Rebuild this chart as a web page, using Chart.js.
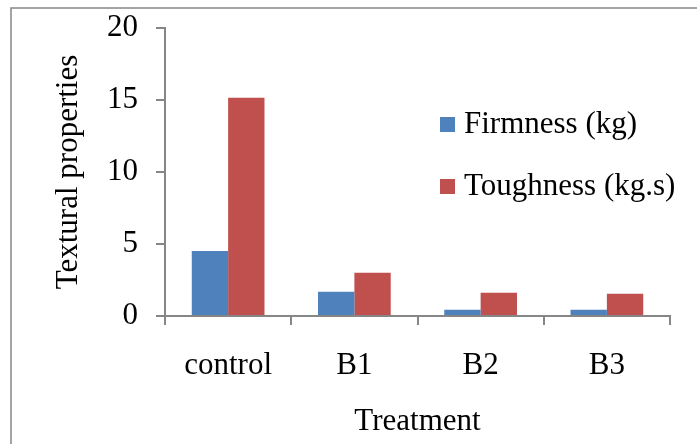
<!DOCTYPE html>
<html>
<head>
<meta charset="utf-8">
<script src="https://cdn.jsdelivr.net/npm/chart.js@4"></script>
<style>
  html, body { margin: 0; padding: 0; background: #fff; }
  #wrap { width: 697px; height: 444px; }
</style>
</head>
<body>
<div id="wrap"><canvas id="chart" width="697" height="444"></canvas></div>
<script>
const categories = ['control', 'B1', 'B2', 'B3'];
const firmness = [4.52, 1.68, 0.44, 0.44];
const toughness = [15.15, 3.0, 1.61, 1.55];
const seriesLabels = ['Firmness (kg)', 'Toughness (kg.s)'];
const yTicks = [0, 5, 10, 15, 20];

const axisGrey = '#868686';
const font = { family: "'Liberation Serif', 'Times New Roman', serif", size: 31 };

// outer frame of the chart box (cropped at right and bottom)
const framePlugin = {
    id: 'frame',
    beforeDraw(chart) {
        const ctx = chart.ctx;
        ctx.save();
        ctx.strokeStyle = axisGrey;
        ctx.lineWidth = 1.5;
        ctx.strokeRect(11, 8, 720, 460);
        ctx.restore();
    }
};

// legend sits inside the plot area
const legendPlugin = {
    id: 'insideLegend',
    afterDraw(chart) {
        const ctx = chart.ctx;
        ctx.save();
        ctx.font = `${font.size}px ${font.family}`;
        ctx.textBaseline = 'middle';
        ctx.textAlign = 'left';
        chart.data.datasets.forEach((ds, i) => {
            const y = 125 + i * 62;
            ctx.fillStyle = ds.backgroundColor;
            ctx.fillRect(440, y - 8, 15, 15);
            ctx.fillStyle = '#000';
            ctx.fillText(ds.label, 464, y);
        });
        ctx.restore();
    }
};

new Chart(document.getElementById('chart'), {
    type: 'bar',
    data: {
        labels: categories,
        datasets: [
            { label: seriesLabels[0], data: firmness, backgroundColor: '#4F81BD' },
            { label: seriesLabels[1], data: toughness, backgroundColor: '#C0504D' }
        ]
    },
    options: {
        responsive: false,
        animation: false,
        layout: { padding: { left: 0, right: 27, top: 28, bottom: 0 } },
        datasets: { bar: { categoryPercentage: 0.576, barPercentage: 1.0 } },
        plugins: { legend: { display: false }, tooltip: { enabled: false } },
        scales: {
            x: {
                grid: { display: true, drawOnChartArea: false, offset: true, tickLength: 9, color: axisGrey, lineWidth: 2 },
                border: { color: axisGrey, width: 2 },
                ticks: { color: '#000', font, padding: 22, maxRotation: 0 },
                title: { display: true, text: 'Treatment', color: '#000', font, padding: { top: 0, bottom: 4 } },
                afterFit(s) { s.height = 128; }
            },
            y: {
                min: 0, max: 20,
                afterBuildTicks(s) { s.ticks = yTicks.map(v => ({ value: v })); },
                grid: { display: true, drawOnChartArea: false, tickLength: 9, color: axisGrey, lineWidth: 2 },
                border: { color: axisGrey, width: 2 },
                ticks: { color: '#000', font, padding: 18 },
                title: { display: true, text: 'Textural properties', color: '#000', font, padding: { top: 50, bottom: 0 } },
                afterFit(s) { s.width = 165; s.paddingTop = 0; s.paddingBottom = 0; }
            }
        }
    },
    plugins: [framePlugin, legendPlugin]
});
</script>
</body>
</html>
